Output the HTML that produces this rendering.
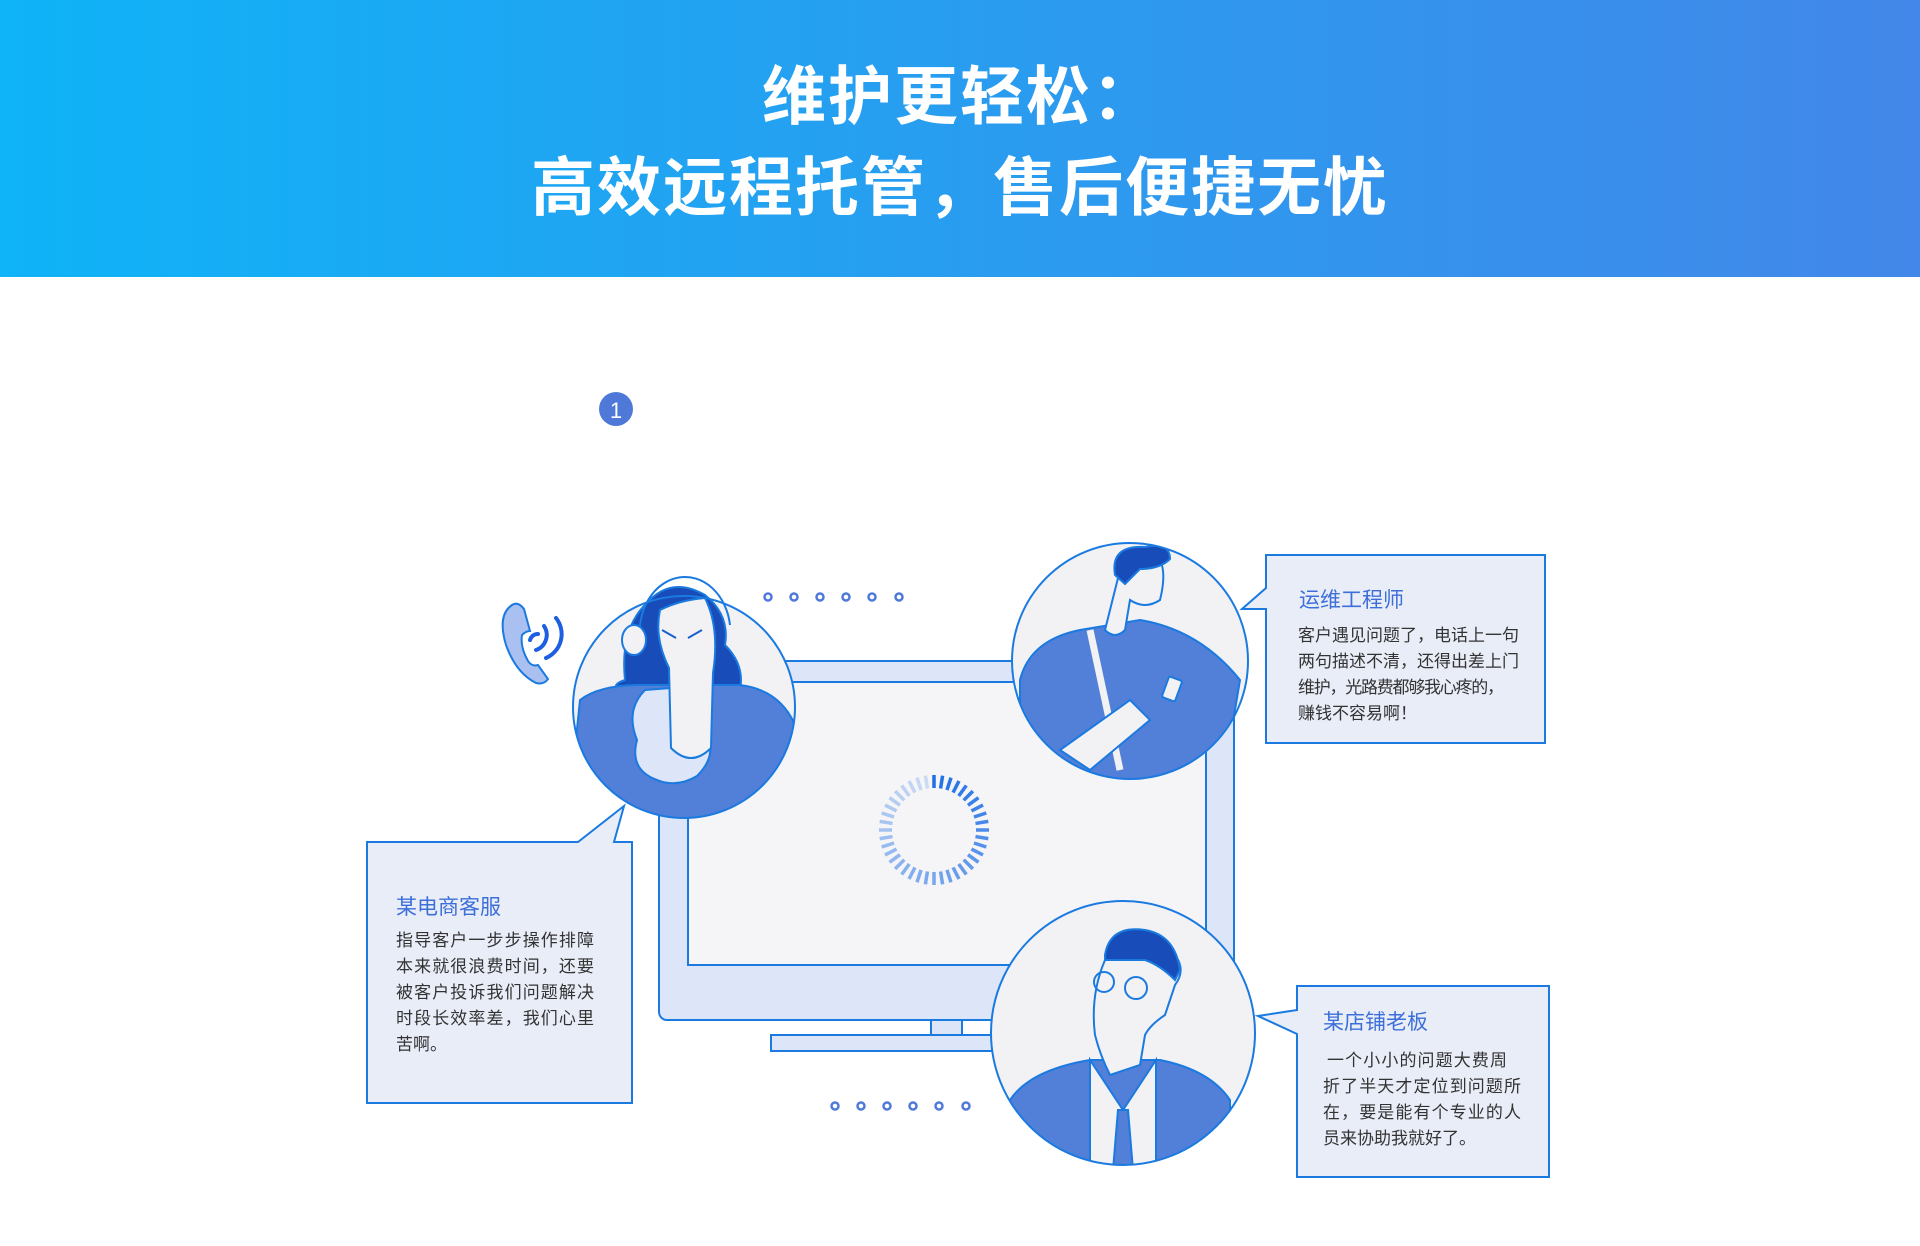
<!DOCTYPE html>
<html><head><meta charset="utf-8"><style>
html,body{margin:0;padding:0;width:1920px;height:1246px;background:#fff;overflow:hidden}
.hdr{position:absolute;left:0;top:0;width:1920px;height:277px;background:linear-gradient(90deg,#0fb3f7,#4287e9)}
.t{position:absolute;left:0;width:1920px;text-align:center;color:#fff;font-family:"Liberation Sans","Noto Sans CJK SC",sans-serif;font-weight:bold;font-size:64px;letter-spacing:2px}
svg{position:absolute;left:0;top:0}
</style></head><body>
<div class="hdr"></div>
<div class="t" style="top:46px">维护更轻松：</div>
<div class="t" style="top:137px">高效远程托管，售后便捷无忧</div>
<svg width="1920" height="1246" viewBox="0 0 1920 1246" font-family="Liberation Sans, Noto Sans CJK SC, sans-serif">
<circle cx="616" cy="409" r="17" fill="#4f79d8"/>
<text x="616" y="418" text-anchor="middle" fill="#fff" font-size="22">1</text>
<rect x="659" y="661" width="575" height="359" rx="8" fill="#dde5f8" stroke="#1a7ae0" stroke-width="2"/>
<rect x="688" y="682" width="518" height="283" fill="#f5f5f7" stroke="#1a7ae0" stroke-width="2"/>
<rect x="931" y="1020" width="31" height="15" fill="#dde5f8" stroke="#1a7ae0" stroke-width="2"/>
<rect x="771" y="1035" width="245" height="16" fill="#dde5f8" stroke="#1a7ae0" stroke-width="2"/>
<g id="spin"></g>
<g fill="none" stroke="#4f79d8" stroke-width="2.5">
<circle cx="768" cy="597" r="3.5"/><circle cx="794" cy="597" r="3.5"/><circle cx="820" cy="597" r="3.5"/><circle cx="846" cy="597" r="3.5"/><circle cx="872" cy="597" r="3.5"/><circle cx="899" cy="597" r="3.5"/>
<circle cx="835" cy="1106" r="3.5"/><circle cx="861" cy="1106" r="3.5"/><circle cx="887" cy="1106" r="3.5"/><circle cx="913" cy="1106" r="3.5"/><circle cx="939" cy="1106" r="3.5"/><circle cx="966" cy="1106" r="3.5"/>
</g>
<path d="M512 605 q-15 10 -6 40 q10 28 30 38 q8 2 12 -4 l-10 -14 q-6 2 -10 -4 q-8 -14 -6 -26 q4 -4 8 -4 l-6 -22 q-6 -8 -12 -4z" fill="#a9c0f0" stroke="#1a7ae0" stroke-width="2"/>
<path d="M530 640 a8 8 0 0 1 8 -6 M536 650 a16 16 0 0 0 8 -24 M546 658 a26 26 0 0 0 10 -40" stroke="#1d5fe0" stroke-width="4" fill="none" stroke-linecap="round"/>
<defs><clipPath id="cw"><circle cx="684" cy="707" r="111"/></clipPath>
<clipPath id="ce"><circle cx="1130" cy="661" r="118"/></clipPath>
<clipPath id="cb"><circle cx="1123" cy="1033" r="132"/></clipPath></defs>
<circle cx="684" cy="707" r="111" fill="#f2f2f4"/>
<path d="M625 680 q-5 -50 20 -75 q25 -30 60 -10 q25 20 20 50 q20 20 15 45 l-120 0 q-10 -5 5 -10z" fill="#184cb8" stroke="#1a7ae0" stroke-width="2"/>
<g clip-path="url(#cw)" stroke="#1a7ae0" stroke-width="2">
<path d="M580 700 q20 -15 60 -15 l100 0 q40 5 55 40 l10 120 l-240 0 z" fill="#527fd8"/>
<path d="M645 690 q-20 20 -8 50 q-8 30 20 40 q20 8 40 -4 q20 -20 10 -40 q10 -30 -10 -50z" fill="#dde5f8"/>
<path d="M660 610 q20 -10 45 -12 q15 30 8 75 l-2 75 q-20 20 -40 0 l-2 -80 q-15 -30 -9 -58z" fill="#f2f2f4"/>
</g>
<path d="M640 640 a45 55 0 0 1 90 -15" fill="none" stroke="#1a7ae0" stroke-width="2"/>
<ellipse cx="634" cy="640" rx="12" ry="15" fill="#f2f2f4" stroke="#1a7ae0" stroke-width="2"/>
<path d="M662 630 l14 8 M688 638 l14 -8 M672 660 l0 0" stroke="#1a5fd0" stroke-width="2"/>
<circle cx="684" cy="707" r="111" fill="none" stroke="#1a7ae0" stroke-width="2"/>
<circle cx="1130" cy="661" r="118" fill="#f2f2f4"/>
<g clip-path="url(#ce)" stroke="#1a7ae0" stroke-width="2">
<path d="M1020 680 q10 -40 60 -50 l60 -10 q60 10 100 60 l-20 120 l-200 0z" fill="#527fd8"/>
<path d="M1090 630 l30 140" stroke="#f2f2f4" stroke-width="7"/>
<path d="M1060 750 l70 -50 l20 20 l-60 50z" fill="#f2f2f4"/>
<rect x="1165" y="678" width="14" height="22" rx="2" fill="#f2f2f4" transform="rotate(20 1172 689)"/>
<path d="M1120 570 q0 -20 30 -20 q20 10 10 50 q-15 10 -30 0 l-5 30 q-10 10 -20 0z" fill="#f2f2f4"/>
<path d="M1115 575 q-5 -30 30 -28 q25 -5 25 12 q-10 10 -30 10 l-15 15z" fill="#184cb8"/>
</g>
<circle cx="1130" cy="661" r="118" fill="none" stroke="#1a7ae0" stroke-width="2"/>
<circle cx="1123" cy="1033" r="132" fill="#f2f2f4"/>
<g clip-path="url(#cb)" stroke="#1a7ae0" stroke-width="2">
<path d="M1010 1100 q20 -30 80 -40 l70 0 q50 10 70 40 l0 80 l-220 0z" fill="#527fd8"/>
<path d="M1090 1060 l33 50 l33 -50 l0 120 l-66 0z" fill="#f2f2f4"/>
<path d="M1118 1110 l10 0 l5 60 l-20 0z" fill="#527fd8"/>
<path d="M1105 960 q25 -30 60 -15 q25 20 10 40 l-10 30 q-15 10 -20 20 l-5 30 l-30 10 q-10 -20 -15 -40 q-5 -40 10 -75z" fill="#f2f2f4"/>
<path d="M1105 955 q5 -30 40 -25 q30 5 35 40 l-5 10 q-15 -15 -30 -20 l-40 0z" fill="#184cb8"/>
<circle cx="1104" cy="982" r="10" fill="none"/><circle cx="1136" cy="988" r="11" fill="none"/>
</g>
<circle cx="1123" cy="1033" r="132" fill="none" stroke="#1a7ae0" stroke-width="2"/>
<g fill="#e9edf8" stroke="#1a7ae0" stroke-width="2">
<path d="M367 842 L578 842 L624 806 L614 842 L632 842 L632 1103 L367 1103 Z"/>
<path d="M1266 555 L1545 555 L1545 743 L1266 743 L1266 609 L1242 609 L1266 588 Z"/>
<path d="M1297 986 L1549 986 L1549 1177 L1297 1177 L1297 1034 L1258 1016 L1297 1010 Z"/>
</g>
<g font-size="21" fill="#3d6fd9">
<text x="396" y="914">某电商客服</text>
<text x="1299" y="607">运维工程师</text>
<text x="1323" y="1029">某店铺老板</text>
</g>
<g font-size="17" fill="#333">
<text x="396" y="946" textLength="198">指导客户一步步操作排障</text>
<text x="396" y="972" textLength="198">本来就很浪费时间，还要</text>
<text x="396" y="998" textLength="198">被客户投诉我们问题解决</text>
<text x="396" y="1024" textLength="198">时段长效率差，我们心里</text>
<text x="396" y="1050">苦啊。</text>
<text x="1298" y="641" textLength="221">客户遇见问题了，电话上一句</text>
<text x="1298" y="667" textLength="221">两句描述不清，还得出差上门</text>
<text x="1298" y="693" textLength="206">维护，光路费都够我心疼的，</text>
<text x="1298" y="719">赚钱不容易啊！</text>
<text x="1327" y="1066" textLength="180">一个小小的问题大费周</text>
<text x="1323" y="1092" textLength="198">折了半天才定位到问题所</text>
<text x="1323" y="1118" textLength="198">在，要是能有个专业的人</text>
<text x="1323" y="1144">员来协助我就好了。</text>
</g>
</svg>
<script>
var g=document.getElementById('spin'),s='';
for(var i=0;i<40;i++){var a=i*9;
s+='<line x1="934" y1="775" x2="934" y2="788" stroke="#1f6fe6" stroke-opacity="'+(1-0.8*i/39).toFixed(2)+'" stroke-width="3.5" transform="rotate('+a+' 934 830)"/>';}
g.innerHTML=s;
</script>
</body></html>
